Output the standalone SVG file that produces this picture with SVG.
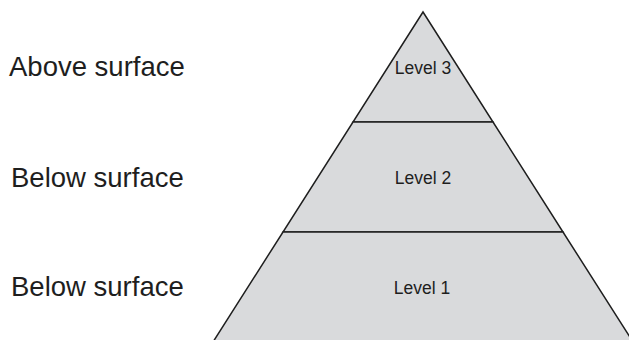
<svg xmlns="http://www.w3.org/2000/svg" width="629" height="340" viewBox="0 0 629 340">
<style>
.lbl{font-family:"Liberation Sans",Arial,sans-serif;font-size:27.5px;fill:#1e1e1e}
.lvl{font-family:"Liberation Sans",Arial,sans-serif;font-size:17.5px;fill:#1e1e1e;text-anchor:middle}
.tier{fill:#d9dadc;stroke:#1e1e1e;stroke-width:1.5;stroke-linejoin:miter}
</style>
<rect width="629" height="340" fill="#ffffff"/>
<g id="labels">
<text class="lbl" x="9" y="76">Above surface</text>
<text class="lbl" x="11" y="187">Below surface</text>
<text class="lbl" x="11" y="296">Below surface</text>
</g>
<g id="level3">
<polygon class="tier" points="423,12 353,122 493,122"/>
<text class="lvl" x="423" y="74">Level 3</text>
</g>
<g id="level2">
<polygon class="tier" points="353,122 493,122 563,232 283,232"/>
<text class="lvl" x="423" y="184">Level 2</text>
</g>
<g id="level1">
<polygon class="tier" points="283,232 563,232 633,342 213,342"/>
<text class="lvl" x="422" y="294">Level 1</text>
</g>
</svg>
